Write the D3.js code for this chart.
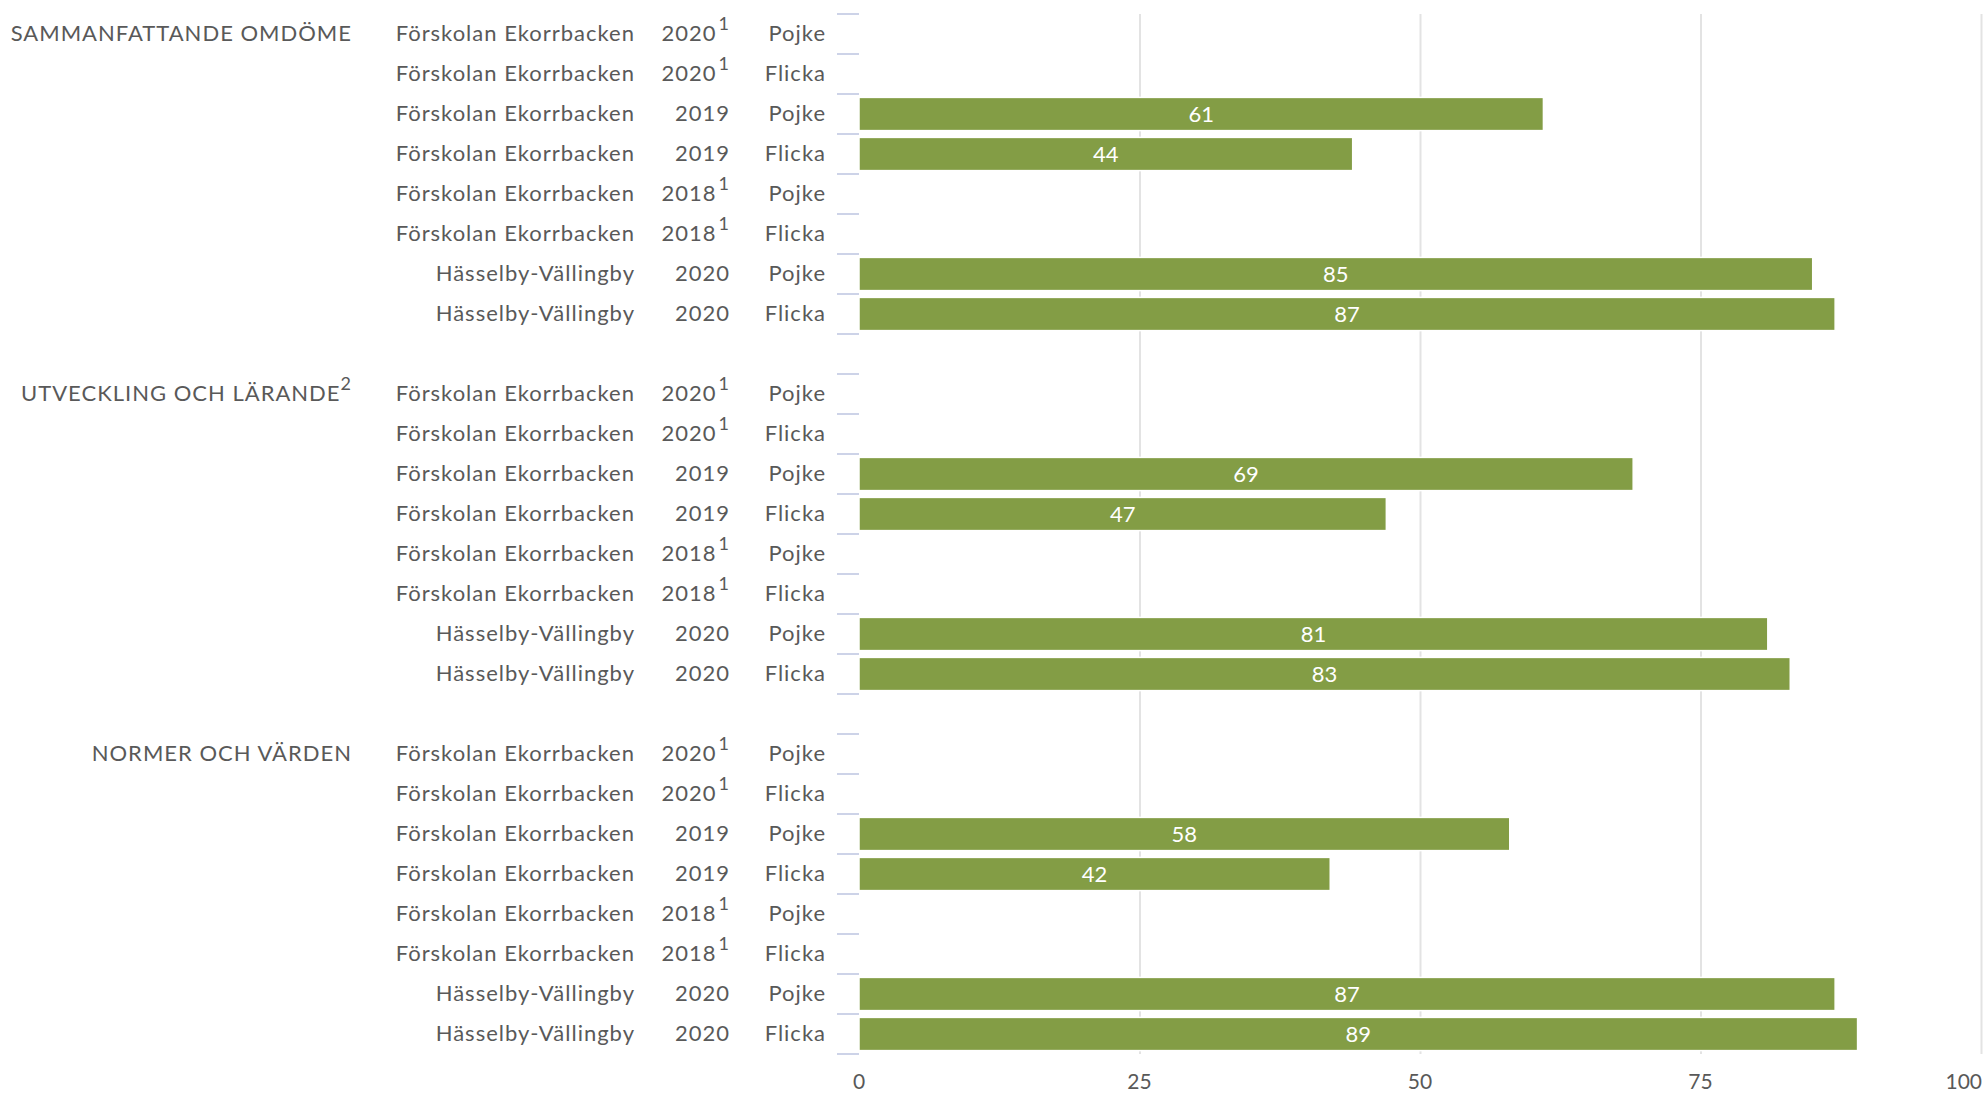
<!DOCTYPE html>
<html>
  <head>
    <meta charset="utf-8" />
    <script src="https://cdn.jsdelivr.net/npm/d3@7"></script>
    <style>
      body { margin: 0; background: #ffffff; }
      text { font-family: Lato, "Open Sans", sans-serif; fill: #595959; }
      .grid line { stroke: #e3e3e3; stroke-width: 2; }
      .bar { fill: #839d45; stroke: #ffffff; stroke-width: 1.5; }
      .value { fill: #ffffff; }
      .ytick { stroke: #cdd3e8; stroke-width: 2; }
      .cat text { letter-spacing: 1px; }
    </style>
  </head>
  <body>
    <div id="chart"></div>
    <script type="text/javascript">

      var w = 1983, h = 1098;

      var groups = ["SAMMANFATTANDE OMDÖME", "UTVECKLING OCH LÄRANDE", "NORMER OCH VÄRDEN"];
      var groupSup = ["", "2", ""];
      var units = ["Förskolan Ekorrbacken", "Förskolan Ekorrbacken", "Förskolan Ekorrbacken",
                   "Förskolan Ekorrbacken", "Förskolan Ekorrbacken", "Förskolan Ekorrbacken",
                   "Hässelby-Vällingby", "Hässelby-Vällingby"];
      var years = ["2020", "2020", "2019", "2019", "2018", "2018", "2020", "2020"];
      var yearSup = ["1", "1", "", "", "1", "1", "", ""];
      var genders = ["Pojke", "Flicka", "Pojke", "Flicka", "Pojke", "Flicka", "Pojke", "Flicka"];

      var values = [
        [null, null, 61, 44, null, null, 85, 87],
        [null, null, 69, 47, null, null, 81, 83],
        [null, null, 58, 42, null, null, 87, 89]
      ];
      var xTicks = [0, 25, 50, 75, 100];

      // build rows, one empty row between groups
      var rows = [];
      groups.forEach(function(g, gi) {
        units.forEach(function(u, i) {
          rows.push({ key: gi + "-" + i, group: gi, i: i, value: values[gi][i] });
        });
        if (gi < groups.length - 1) rows.push({ key: "gap" + gi, gap: true });
      });

      var x0 = 859, x1 = 1981, yTop = 14, yBottom = 1054;

      var x = d3.scaleLinear().domain([0, 100]).range([x0, x1]);
      var y = d3.scaleBand().domain(rows.map(function(d) { return d.key; }))
        .range([yTop, yBottom]).paddingInner(0.17).paddingOuter(0.085);

      var svg = d3.select("#chart").append("svg")
        .attr("width", w).attr("height", h);

      // gridlines
      svg.append("g").attr("class", "grid")
        .attr("transform", "translate(0," + yBottom + ")")
        .call(d3.axisBottom(x).tickValues(xTicks.slice(1)).tickSize(-(yBottom - yTop)).tickFormat(""))
        .call(function(g) { g.select(".domain").remove(); });

      // x tick labels (last one kept inside the frame)
      svg.append("g").selectAll("text").data(xTicks).enter().append("text")
        .attr("x", function(d, i) { return i === xTicks.length - 1 ? w - 1 : x(d); })
        .attr("y", 1089)
        .attr("text-anchor", function(d, i) { return i === xTicks.length - 1 ? "end" : "middle"; })
        .attr("font-size", 21)
        .text(function(d) { return d; });

      // small ticks on category axis, between rows
      var step = y.step();
      var dataRows = rows.filter(function(d) { return !d.gap; });
      var tickYs = [];
      dataRows.forEach(function(d) {
        var top = y(d.key) - y.paddingInner() * step / 2;
        tickYs.push(top, top + step);
      });
      svg.append("g").selectAll("line").data(tickYs).enter().append("line")
        .attr("class", "ytick")
        .attr("x1", 837).attr("x2", x0)
        .attr("y1", function(d) { return d; }).attr("y2", function(d) { return d; });

      // bars
      var bars = dataRows.filter(function(d) { return d.value != null; });
      svg.append("g").selectAll("rect").data(bars).enter().append("rect")
        .attr("class", "bar")
        .attr("x", x(0))
        .attr("y", function(d) { return y(d.key); })
        .attr("width", function(d) { return x(d.value) - x(0); })
        .attr("height", y.bandwidth());

      svg.append("g").selectAll("text").data(bars).enter().append("text")
        .attr("class", "value")
        .attr("x", function(d) { return x(d.value / 2); })
        .attr("y", function(d) { return y(d.key) + y.bandwidth() / 2; })
        .attr("dy", "0.36em")
        .attr("text-anchor", "middle")
        .attr("font-size", 22)
        .text(function(d) { return d.value; });

      // category labels
      var labels = svg.append("g").attr("class", "cat").attr("font-size", 22);
      dataRows.forEach(function(d) {
        var cy = y(d.key) + y.bandwidth() / 2 + 7;
        labels.append("text").attr("x", 826).attr("y", cy)
          .attr("text-anchor", "end").text(genders[d.i]);
        var yt = labels.append("text").attr("x", 730).attr("y", cy).attr("text-anchor", "end");
        yt.append("tspan").text(years[d.i]);
        if (yearSup[d.i]) yt.append("tspan").attr("dy", -11).attr("font-size", 18).attr("dx", 2).text(yearSup[d.i]);
        labels.append("text").attr("x", 635).attr("y", cy)
          .attr("text-anchor", "end").text(units[d.i]);
        if (d.i === 0) {
          var gt = labels.append("text").attr("x", 352).attr("y", cy).attr("text-anchor", "end");
          gt.append("tspan").text(groups[d.group]);
          if (groupSup[d.group]) gt.append("tspan").attr("dy", -11).attr("font-size", 18).text(groupSup[d.group]);
        }
      });

    </script>
  </body>
</html>
